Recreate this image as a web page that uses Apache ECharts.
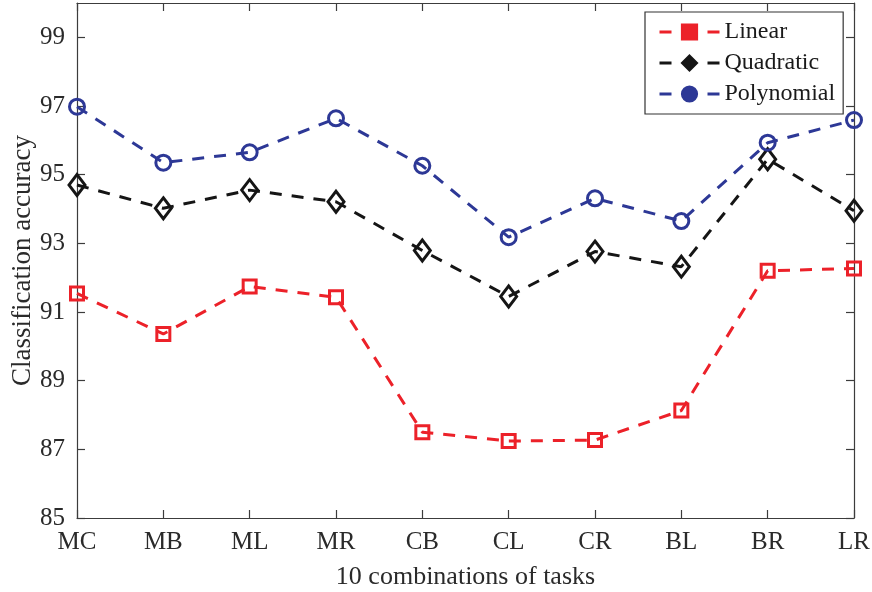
<!DOCTYPE html>
<html>
<head>
<meta charset="utf-8">
<script src="https://cdn.jsdelivr.net/npm/echarts@6/dist/echarts.min.js"></script>
<style>
  html, body { margin: 0; padding: 0; background: #fff; }
  #chart { width: 872px; height: 592px; }
</style>
</head>
<body>
<div id="chart"></div>
<script>
// Task combinations on the x axis
const categories = ['MC', 'MB', 'ML', 'MR', 'CB', 'CL', 'CR', 'BL', 'BR', 'LR'];

// Classification accuracy (%) for each kernel
const linear     = [91.54, 90.36, 91.74, 91.43, 87.50, 87.24, 87.27, 88.13, 92.20, 92.27];
const quadratic  = [94.70, 94.02, 94.55, 94.21, 92.79, 91.45, 92.76, 92.32, 95.45, 93.95];
const polynomial = [96.98, 95.35, 95.65, 96.64, 95.26, 93.18, 94.31, 93.65, 95.93, 96.59];

// Labelled y ticks
const yTicks = [85, 87, 89, 91, 93, 95, 97, 99];

const FONT = 'Liberation Serif';
const AXIS_COLOR = '#3c3c3c';
const TEXT_COLOR = '#2a2a2a';
const RED = '#ec2129';
const BLACK = '#151515';
const BLUE = '#2d3896';

const chart = echarts.init(document.getElementById('chart'), null, { renderer: 'canvas' });

function makeSeries(name, data, color, symbol, size) {
  return {
    name: name,
    type: 'line',
    data: data,
    xAxisIndex: 0,
    yAxisIndex: 0,
    smooth: false,
    symbol: symbol,
    symbolSize: size,
    showAllSymbol: true,
    lineStyle: { color: color, width: 3, type: [12, 10] },
    itemStyle: { color: 'rgba(255,255,255,0)', borderColor: color, borderWidth: 3 },
    emphasis: { disabled: true },
    z: 3
  };
}

const axisLine = { show: true, lineStyle: { color: AXIS_COLOR, width: 1.2 } };
const axisTick = { show: true, inside: true, length: 8, lineStyle: { color: AXIS_COLOR, width: 1.2 } };

chart.setOption({
  backgroundColor: '#ffffff',
  animation: false,
  grid: { left: 77, top: 3, right: 18, bottom: 74, containLabel: false, outerBoundsMode: 'none' },
  legend: {
    orient: 'vertical',
    left: 645,
    top: 12,
    padding: [8, 8, 8, 13],
    itemGap: 7,
    itemWidth: 60,
    itemHeight: 19,
    backgroundColor: '#ffffff',
    borderColor: '#333333',
    borderWidth: 1.2,
    borderRadius: 0,
    textStyle: { fontFamily: FONT, fontSize: 24, color: '#1a1a1a', lineHeight: 23 },
    lineStyle: { type: [12, 36, 12], width: 3 },
    data: [
      { name: 'Linear', itemStyle: { color: RED } },
      { name: 'Quadratic', itemStyle: { color: BLACK } },
      { name: 'Polynomial', itemStyle: { color: BLUE } }
    ]
  },
  xAxis: [
    {
      type: 'category',
      data: categories,
      boundaryGap: false,
      position: 'bottom',
      axisLine: axisLine,
      axisTick: axisTick,
      axisLabel: { fontFamily: FONT, fontSize: 25, color: TEXT_COLOR, margin: 12 },
      splitLine: { show: false },
      name: '10 combinations of tasks',
      nameLocation: 'middle',
      nameGap: 46,
      nameMoveOverlap: false,
      nameTextStyle: { fontFamily: FONT, fontSize: 26, color: TEXT_COLOR }
    },
    {
      type: 'category',
      data: categories,
      boundaryGap: false,
      position: 'top',
      axisLine: axisLine,
      axisTick: axisTick,
      axisLabel: { show: false },
      splitLine: { show: false }
    }
  ],
  yAxis: [
    {
      type: 'value',
      min: 85,
      max: 100,
      position: 'left',
      axisLine: axisLine,
      axisTick: Object.assign({}, axisTick, { customValues: yTicks }),
      axisLabel: { fontFamily: FONT, fontSize: 25, color: TEXT_COLOR, margin: 12, customValues: yTicks },
      splitLine: { show: false },
      name: 'Classification accuracy',
      nameLocation: 'middle',
      nameGap: 41,
      nameMoveOverlap: false,
      nameTextStyle: { fontFamily: FONT, fontSize: 27, color: TEXT_COLOR }
    },
    {
      type: 'value',
      min: 85,
      max: 100,
      position: 'right',
      axisLine: axisLine,
      axisTick: Object.assign({}, axisTick, { customValues: yTicks }),
      axisLabel: { show: false },
      splitLine: { show: false }
    }
  ],
  series: [
    makeSeries('Linear', linear, RED, 'rect', 13),
    makeSeries('Quadratic', quadratic, BLACK, 'diamond', [16, 21]),
    makeSeries('Polynomial', polynomial, BLUE, 'circle', 15)
  ]
});
</script>
</body>
</html>
